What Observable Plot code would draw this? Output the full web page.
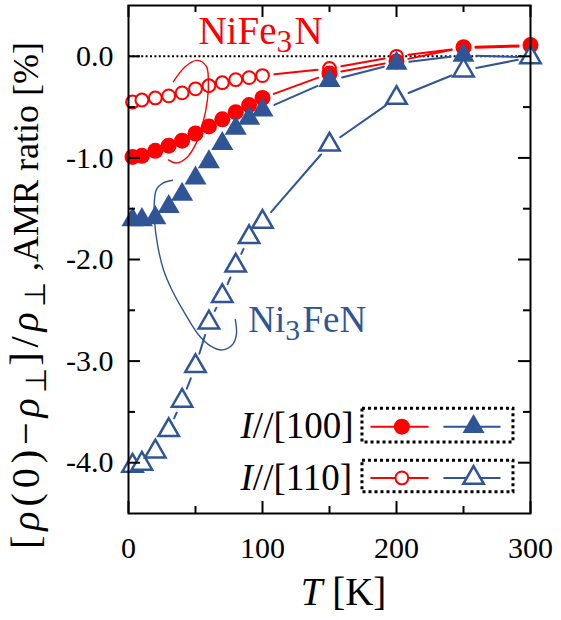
<!DOCTYPE html>
<html>
<head>
<meta charset="utf-8">
<script src="https://cdn.jsdelivr.net/npm/d3@7"></script>
<script src="https://cdn.jsdelivr.net/npm/@observablehq/plot@0.6"></script>
<style>
  body { margin: 0; background: #fff; }
</style>
</head>
<body>
<div id="chart"></div>
<script>
// Temperatures (K) of the measurements
const temps = [3, 10, 20, 30, 40, 50, 60, 70, 80, 90, 100, 150, 200, 250, 300];

// AMR ratio (%) for each film and current direction
const nife3n100 = [-0.99, -0.98, -0.93, -0.88, -0.83, -0.76, -0.69, -0.62, -0.55, -0.48, -0.41, -0.17, -0.05, 0.09, 0.11];
const nife3n110 = [-0.45, -0.43, -0.41, -0.39, -0.36, -0.32, -0.29, -0.26, -0.23, -0.21, -0.19, -0.12, 0.00, 0.08, 0.10];
const ni3fen100 = [-1.61, -1.61, -1.59, -1.48, -1.36, -1.20, -1.04, -0.86, -0.71, -0.61, -0.53, -0.24, -0.07, 0.01, -0.01];
const ni3fen110 = [-4.03, -4.01, -3.89, -3.68, -3.39, -3.05, -2.62, -2.36, -2.06, -1.78, -1.63, -0.87, -0.41, -0.14, -0.01];

// Axis ticks
const xTicksMajor = [0, 100, 200, 300];
const xTicksMinor = [50, 150, 250];
const yTicksMajor = [0, -1, -2, -3, -4];
const yTicksMinor = [-0.5, -1.5, -2.5, -3.5];

// Text
const yLabel = "[ρ(0)−ρ⊥]/ρ⊥ ,AMR ratio [%]";
const xLabel = "T [K]";
const labelNiFe3N = "NiFe3N";
const labelNi3FeN = "Ni3FeN";
const legendLabels = ["I//[100]", "I//[110]"];

// Hand-drawn guide loops pointing at the two compounds
const loopNiFe3N = [
  [33.5, -0.25], [42.5, -0.10], [51.4, -0.04], [58.1, -0.10], [59.6, -0.24],
  [58.9, -0.43], [55.1, -0.68], [50.7, -0.85], [44.0, -0.99], [35.8, -1.05], [29.8, -1.02]
];
const loopNi3FeN = [
  [32.8, -1.22], [25.3, -1.25], [20.9, -1.31], [19.4, -1.41], [19.4, -1.61],
  [21.6, -1.85], [26.1, -2.10], [32.8, -2.31], [42.5, -2.54], [52.2, -2.74],
  [61.1, -2.85], [70.0, -2.89], [77.5, -2.84], [80.5, -2.74], [79.7, -2.59]
];

// ---- layout & style ----
const W = 561, H = 620;
const mL = 128, mR = 31, mT = 5, mB = 107;
const innerW = W - mL - mR, innerH = H - mT - mB;
const majorLen = 12, minorLen = 7;
const red = "#ff0000", blue = "#2f5597";
const serif = "'Liberation Serif', 'Times New Roman', serif";

const series = [
  {name: "NiFe3N I//[110]", values: nife3n110, color: red, symbol: "circle", filled: false, r: 6.4, gap: 12},
  {name: "NiFe3N I//[100]", values: nife3n100, color: red, symbol: "circle", filled: true, r: 8, gap: 12},
  {name: "Ni3FeN I//[100]", values: ni3fen100, color: blue, symbol: "triangle", filled: true, r: 8.2, gap: 13},
  {name: "Ni3FeN I//[110]", values: ni3fen110, color: blue, symbol: "triangle", filled: false, r: 7.6, gap: 13}
];

const points = s => temps.map((t, i) => ({T: t, v: s.values[i]}));
const segments = s => d3.pairs(points(s)).map(([a, b]) => ({x1: a.T, y1: a.v, x2: b.T, y2: b.v}));

function markerOptions(s) {
  return {
    symbol: s.symbol, r: s.r,
    fill: s.filled ? s.color : "white",
    stroke: s.filled ? "none" : s.color,
    strokeWidth: s.filled ? 0 : (s.symbol === "triangle" ? 2.5 : 2)
  };
}

// Legend geometry (data units)
const legendRows = [
  {label: legendLabels[0], y: -3.645, y1: -3.47, y2: -3.80, filled: true},
  {label: legendLabels[1], y: -4.15, y1: -3.98, y2: -4.29, filled: false}
];
const legendBox = {x1: 174.6, x2: 287.3};
const legendTextX = 83.6;
const legendRed = {x1: 180.6, x2: 223.9, x: 204.0};
const legendBlue = {x1: 235.0, x2: 277.6, x: 257.5};

const marks = [
  // zero reference line
  Plot.ruleY([0], {stroke: "black", strokeWidth: 2, strokeDasharray: "2,2.4"}),

  // connecting lines, stopping short of the markers
  ...series.map(s => Plot.arrow(segments(s), {
    x1: "x1", y1: "y1", x2: "x2", y2: "y2",
    stroke: s.color, strokeWidth: 2, headLength: 0,
    insetStart: s.gap, insetEnd: s.gap
  })),

  // markers
  ...series.map(s => Plot.dot(points(s), {x: "T", y: "v", ...markerOptions(s)})),

  // guide loops
  Plot.line(loopNiFe3N, {x: d => d[0], y: d => d[1], curve: "catmull-rom", stroke: red, strokeWidth: 1.4}),
  Plot.line(loopNi3FeN, {x: d => d[0], y: d => d[1], curve: "catmull-rom", stroke: blue, strokeWidth: 1.4}),

  // compound labels
  Plot.text([labelNiFe3N], {x: () => 52.2, y: () => 0.245, text: d => d, textAnchor: "start", fill: red, fontSize: 39}),
  Plot.text([labelNi3FeN], {x: () => 89.4, y: () => -2.60, text: d => d, textAnchor: "start", fill: blue, fontSize: 37}),

  // legend
  Plot.rect(legendRows, {x1: () => legendBox.x1, x2: () => legendBox.x2, y1: "y1", y2: "y2",
    fill: "none", stroke: "black", strokeWidth: 3, strokeDasharray: "3,3"}),
  Plot.text(legendRows, {x: () => legendTextX, y: "y", text: "label", textAnchor: "start", fill: "black", fontSize: 37}),
  Plot.link(legendRows, {x1: () => legendRed.x1, x2: () => legendRed.x2, y1: "y", y2: "y", stroke: red, strokeWidth: 2}),
  Plot.link(legendRows, {x1: () => legendBlue.x1, x2: () => legendBlue.x2, y1: "y", y2: "y", stroke: blue, strokeWidth: 2}),
  Plot.dot(legendRows.filter(d => !d.filled), {x: () => legendRed.x, y: "y", ...markerOptions(series[0])}),
  Plot.dot(legendRows.filter(d => d.filled), {x: () => legendRed.x, y: "y", ...markerOptions(series[1])}),
  Plot.dot(legendRows.filter(d => d.filled), {x: () => legendBlue.x, y: "y", ...markerOptions(series[2])}),
  Plot.dot(legendRows.filter(d => !d.filled), {x: () => legendBlue.x, y: "y", ...markerOptions(series[3])}),

  // frame and inward ticks on all four sides
  Plot.frame({stroke: "black", strokeWidth: 2}),
  Plot.tickX(xTicksMajor, {x: d => d, insetTop: innerH - majorLen, strokeWidth: 2}),
  Plot.tickX(xTicksMinor, {x: d => d, insetTop: innerH - minorLen, strokeWidth: 2}),
  Plot.tickX(xTicksMajor, {x: d => d, insetBottom: innerH - majorLen, strokeWidth: 2}),
  Plot.tickX(xTicksMinor, {x: d => d, insetBottom: innerH - minorLen, strokeWidth: 2}),
  Plot.tickY(yTicksMajor, {y: d => d, insetRight: innerW - majorLen, strokeWidth: 2}),
  Plot.tickY(yTicksMinor, {y: d => d, insetRight: innerW - minorLen, strokeWidth: 2}),
  Plot.tickY(yTicksMajor, {y: d => d, insetLeft: innerW - majorLen, strokeWidth: 2}),
  Plot.tickY(yTicksMinor, {y: d => d, insetLeft: innerW - minorLen, strokeWidth: 2}),

  // tick labels
  Plot.axisX(xTicksMajor, {tickSize: 0, tickPadding: 23, tickFormat: d => String(d), label: null, fontSize: 30}),
  Plot.axisY(yTicksMajor, {tickSize: 0, tickPadding: 15, tickFormat: d => d.toFixed(1), label: null, fontSize: 30}),

  // axis titles
  Plot.text([xLabel], {frameAnchor: "bottom", text: d => d, textAnchor: "middle", dx: 14, dy: 91, fill: "black", fontSize: 39}),
  Plot.text([yLabel], {frameAnchor: "left", text: d => d, textAnchor: "middle", rotate: -90, dx: -101, dy: 36, fill: "black", fontSize: 36})
];

const chart = Plot.plot({
  width: W, height: H,
  marginLeft: mL, marginRight: mR, marginTop: mT, marginBottom: mB,
  style: {fontFamily: serif, fontSize: "30px", background: "white", color: "black", overflow: "visible"},
  x: {domain: [0, 300]},
  y: {domain: [-4.5, 0.5]},
  marks
});

// Rich text: italics, subscripts and the wider math run inside labels
const rich = new Map([
  [labelNiFe3N, [["NiFe"], ["3", "sub"], ["N"]]],
  [labelNi3FeN, [["Ni"], ["3", "sub"], ["FeN"]]],
  [legendLabels[0], [["I", "it"], ["//[100]"]]],
  [legendLabels[1], [["I", "it"], ["//[110]"]]],
  [xLabel, [["T", "it"], [" [K]"]]],
  [yLabel, [["[", "math"], ["ρ", "mathit"], ["(0)−", "math"], ["ρ", "mathit"], ["⊥", "sub"], ["]/", "math"], ["ρ", "mathit"], ["⊥", "sub"], [" ,AMR ratio [%]"]]]
]);
d3.select(chart).selectAll("text").each(function () {
  const parts = rich.get(this.textContent);
  if (!parts) return;
  const node = d3.select(this);
  node.text(null);
  let shifted = false;
  for (const [str, style] of parts) {
    const t = node.append("tspan").text(str);
    if (style === "it" || style === "mathit") t.attr("font-style", "italic");
    if (style === "math" || style === "mathit") t.attr("font-size", "112%").attr("letter-spacing", "0.12em");
    if (style === "sub") {
      t.attr("font-size", "80%").attr("letter-spacing", "0.08em").attr("dy", "0.25em");
      shifted = true;
    } else if (shifted) {
      t.attr("dy", "-0.2em");
      shifted = false;
    }
  }
});

document.getElementById("chart").append(chart);
</script>
</body>
</html>
